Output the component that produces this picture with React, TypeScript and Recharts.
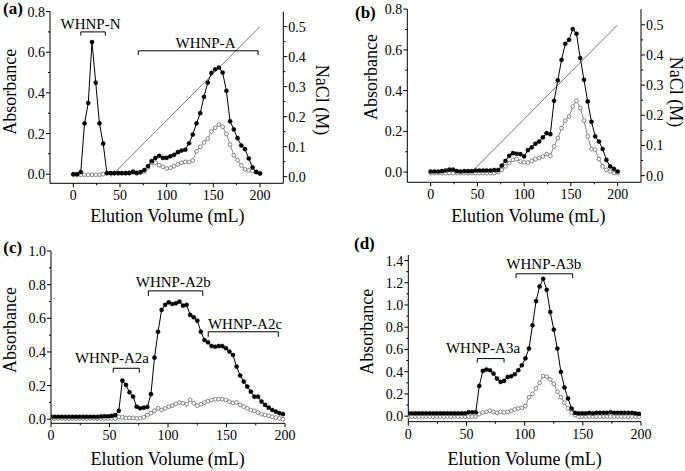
import React from 'react'
import { LineChart, Line, XAxis, YAxis, ReferenceLine, ReferenceDot } from 'recharts'

const SERIF = '"Liberation Serif", "Times New Roman", serif'
const W = 685
const H = 471

// elution volume of each collected fraction (mL)
const VOL_AB = [
  0, 4, 8, 12, 16, 20, 24, 28, 32, 36, 40, 44, 48, 52, 56, 60, 64, 68, 72, 76, 80, 84, 88, 92, 96, 100,
  104, 108, 112, 116, 120, 124, 128, 132, 136, 140, 144, 148, 152, 156, 160, 164, 168, 172, 176, 180,
  184, 188, 192, 196, 200,
]
const VOL_CD = [
  0, 3.05, 6.1, 9.15, 12.2, 15.25, 18.3, 21.35, 24.4, 27.45, 30.5, 33.55, 36.6, 39.65, 42.7, 45.75, 48.8,
  51.85, 54.9, 57.95, 61, 64.05, 67.1, 70.15, 73.2, 76.25, 79.3, 82.35, 85.4, 88.45, 91.5, 94.55, 97.6,
  100.65, 103.7, 106.75, 109.8, 112.85, 115.9, 118.95, 122, 125.05, 128.1, 131.15, 134.2, 137.25, 140.3,
  143.35, 146.4, 149.45, 152.5, 155.55, 158.6, 161.65, 164.7, 167.75, 170.8, 173.85, 176.9, 179.95, 183,
  186.05, 189.1, 192.15, 195.2, 198.25,
]

// absorbance, filled markers (●) and open markers (○)
const A_FILLED = [
  0, 0, 0.01, 0.25, 0.35, 0.65, 0.45, 0.25, 0.15, 0.005, 0.005, 0.005, 0.005, 0.005, 0.005, 0.005, 0.01,
  0.005, 0.01, 0.02, 0.04, 0.064, 0.08, 0.09, 0.08, 0.08, 0.088, 0.095, 0.108, 0.116, 0.12, 0.152, 0.195,
  0.25, 0.3, 0.38, 0.45, 0.498, 0.516, 0.525, 0.5, 0.41, 0.26, 0.22, 0.177, 0.141, 0.123, 0.077, 0.033,
  0.011, 0.003,
]
const A_OPEN = [
  -0.003, -0.003, -0.003, -0.003, -0.003, -0.003, -0.003, -0.003, 0, 0.005, 0.005, 0.005, 0.005, 0.005,
  0.005, 0.008, 0.015, 0.008, 0.008, 0.013, 0.033, 0.057, 0.057, 0.044, 0.036, 0.028, 0.031, 0.039, 0.048,
  0.056, 0.06, 0.06, 0.067, 0.113, 0.134, 0.156, 0.175, 0.21, 0.228, 0.244, 0.233, 0.198, 0.146, 0.093,
  0.069, 0.043, 0.023, 0.018, 0.015, 0.01, 0.005,
]
const B_FILLED = [
  0.003, 0.003, 0.003, 0.005, 0.008, 0.012, 0.012, 0.005, 0.003, 0.005, 0.005, 0.005, 0.008, 0.008, 0.008,
  0.008, 0.008, 0.01, 0.01, 0.032, 0.055, 0.08, 0.093, 0.09, 0.088, 0.077, 0.108, 0.121, 0.139, 0.15, 0.17,
  0.191, 0.186, 0.35, 0.45, 0.551, 0.63, 0.649, 0.702, 0.679, 0.56, 0.453, 0.347, 0.247, 0.175, 0.15, 0.113,
  0.06, 0.028, 0.016, 0.003,
]
const B_OPEN = [
  -0.005, -0.005, -0.005, -0.005, -0.005, -0.005, -0.005, -0.005, -0.005, -0.005, -0.005, -0.005, -0.005,
  -0.005, -0.005, -0.005, -0.005, -0.005, 0, 0.011, 0.028, 0.044, 0.06, 0.064, 0.052, 0.047, 0.047, 0.055,
  0.064, 0.069, 0.077, 0.088, 0.08, 0.126, 0.167, 0.216, 0.252, 0.273, 0.322, 0.35, 0.315, 0.253, 0.175,
  0.113, 0.11, 0.064, 0.028, 0.011, 0.003, -0.005, -0.005,
]
const C_FILLED = [
  0.015, 0.015, 0.015, 0.015, 0.015, 0.015, 0.015, 0.015, 0.015, 0.015, 0.015, 0.015, 0.015, 0.015, 0.017,
  0.018, 0.018, 0.02, 0.025, 0.05, 0.23, 0.204, 0.16, 0.134, 0.075, 0.065, 0.069, 0.073, 0.149, 0.366, 0.52,
  0.65, 0.68, 0.695, 0.685, 0.689, 0.699, 0.675, 0.68, 0.62, 0.606, 0.586, 0.52, 0.471, 0.457, 0.435, 0.431,
  0.435, 0.435, 0.422, 0.402, 0.382, 0.313, 0.26, 0.224, 0.194, 0.164, 0.134, 0.134, 0.105, 0.085, 0.069,
  0.055, 0.045, 0.036, 0.03,
]
const C_OPEN = [
  0.004, 0.004, 0.004, 0.004, 0.004, 0.004, 0.004, 0.004, 0.004, 0.004, 0.004, 0.004, 0.004, 0.004, 0.004,
  0.004, 0.004, 0.004, 0.004, 0.015, 0.012, 0.008, 0.008, 0.008, 0.005, 0.006, 0.012, 0.025, 0.036, 0.05,
  0.065, 0.055, 0.065, 0.075, 0.081, 0.091, 0.1, 0.095, 0.089, 0.115, 0.095, 0.081, 0.089, 0.1, 0.108, 0.115,
  0.119, 0.119, 0.119, 0.115, 0.105, 0.097, 0.1, 0.085, 0.075, 0.065, 0.055, 0.05, 0.04, 0.03, 0.025, 0.02,
  0.015, 0.01, 0.005, 0,
]
const D_FILLED = [
  0.025, 0.025, 0.025, 0.025, 0.025, 0.025, 0.025, 0.025, 0.025, 0.025, 0.025, 0.025, 0.025, 0.025, 0.025,
  0.025, 0.025, 0.035, 0.035, 0.035, 0.272, 0.407, 0.419, 0.413, 0.383, 0.338, 0.308, 0.317, 0.353, 0.359,
  0.377, 0.413, 0.458, 0.52, 0.608, 0.817, 1.035, 1.167, 1.236, 1.137, 0.936, 0.778, 0.608, 0.398, 0.258,
  0.159, 0.069, 0.03, 0.025, 0.025, 0.025, 0.03, 0.025, 0.03, 0.03, 0.03, 0.03, 0.035, 0.03, 0.03, 0.03,
  0.03, 0.03, 0.03, 0.025, 0.02,
]
const D_OPEN = [
  -0.004, -0.004, -0.004, -0.004, -0.004, -0.004, -0.004, -0.004, -0.004, -0.004, -0.004, -0.004, -0.004,
  -0.004, -0.004, -0.004, -0.004, -0.004, -0.004, -0.004, 0.018, 0.033, 0.039, 0.048, 0.039, 0.03, 0.039,
  0.033, 0.039, 0.048, 0.06, 0.069, 0.075, 0.09, 0.17, 0.2, 0.25, 0.3, 0.36, 0.355, 0.33, 0.29, 0.22, 0.17,
  0.12, 0.07, 0.03, 0.01, -0.004, -0.004, -0.004, -0.004, -0.004, -0.004, -0.004, -0.004, -0.004, -0.004,
  -0.004, -0.004, -0.004, -0.004, -0.004, -0.004, -0.004, -0.004,
]

// linear NaCl gradient (M)
const NACL_VOL = [40, 200]
const NACL_M = [0, 0.5]

// axis ticks (minor ones are drawn without a label)
const X_TICKS = [0, 25, 50, 75, 100, 125, 150, 175, 200]
const ABS_TICKS_08 = [0, 0.1, 0.2, 0.3, 0.4, 0.5, 0.6, 0.7, 0.8]
const ABS_TICKS_10 = [0, 0.1, 0.2, 0.3, 0.4, 0.5, 0.6, 0.7, 0.8, 0.9, 1.0]
const ABS_TICKS_14 = [0, 0.1, 0.2, 0.3, 0.4, 0.5, 0.6, 0.7, 0.8, 0.9, 1.0, 1.1, 1.2, 1.3, 1.4]
const NACL_TICKS = [0, 0.05, 0.1, 0.15, 0.2, 0.25, 0.3, 0.35, 0.4, 0.45, 0.5]

type Row = { v: number; f: number; o: number }
type Bracket = { name: string; from: number; to: number; level: number; drop: number; tx: number; ty: number }
type Pt = { x: number; y: number }
type PanelCfg = {
  id: string
  rows: Row[]
  nacl: { v: number; n: number }[] | null
  box: { left: number; right: number; top: number; bottom: number }
  xDomain: [number, number]
  yDomain: [number, number]
  yTicks: number[]
  rDomain?: [number, number]
  brackets: Bracket[]
  letter: Pt
  yTitle: Pt
  xTitle: Pt
  rTitle?: Pt
}

const zip = (vol: number[], f: number[], o: number[]): Row[] => vol.map((v, i) => ({ v, f: f[i], o: o[i] }))
const naclRows = NACL_VOL.map((v, i) => ({ v, n: NACL_M[i] }))

const onStep = (v: number, step: number) => Math.abs(v / step - Math.round(v / step)) < 1e-6

const txt = (size: number, bold = false): React.CSSProperties => ({
  fontFamily: SERIF,
  fontSize: size,
  fontWeight: bold ? 700 : 400,
  fill: '#000',
})

function tickRenderer(side: 'left' | 'right' | 'bottom', step: number, digits: number) {
  return function Tick(props: any) {
    const { x, y, payload } = props
    const major = onStep(payload.value, step)
    const len = major ? 4 : 2
    const label = major ? Number(payload.value).toFixed(digits) : null
    if (side === 'bottom') {
      return (
        <g>
          <line x1={x} y1={y} x2={x} y2={y + len} stroke="#000" />
          {label && (
            <text x={x} y={y + 17} textAnchor="middle" style={txt(14)}>
              {label}
            </text>
          )}
        </g>
      )
    }
    const dir = side === 'left' ? -1 : 1
    return (
      <g>
        <line x1={x} y1={y} x2={x + dir * len} y2={y} stroke="#000" />
        {label && (
          <text x={x + dir * 5} y={y + 5} textAnchor={side === 'left' ? 'end' : 'start'} style={txt(14)}>
            {label}
          </text>
        )}
      </g>
    )
  }
}

const PANELS: PanelCfg[] = [
  {
    id: '(a)',
    rows: zip(VOL_AB, A_FILLED, A_OPEN),
    nacl: naclRows,
    box: { left: 50, right: 283.3, top: 11.6, bottom: 183.3 },
    xDomain: [-25, 225],
    yDomain: [-0.045, 0.8],
    yTicks: ABS_TICKS_08,
    rDomain: [-0.022, 0.55],
    brackets: [
      { name: 'WHNP-N', from: 8, to: 34.3, level: 0.7, drop: 0.018, tx: 18.4, ty: 0.712 },
      { name: 'WHNP-A', from: 69.6, to: 198, level: 0.607, drop: 0.021, tx: 141.6, ty: 0.623 },
    ],
    letter: { x: 3, y: 14 },
    yTitle: { x: 10.5, y: 91.7 },
    xTitle: { x: 167.3, y: 221.5 },
    rTitle: { x: 321.7, y: 100 },
  },
  {
    id: '(b)',
    rows: zip(VOL_AB, B_FILLED, B_OPEN),
    nacl: naclRows,
    box: { left: 407.3, right: 641, top: 9.1, bottom: 182.3 },
    xDomain: [-25, 225],
    yDomain: [-0.05, 0.8],
    yTicks: ABS_TICKS_08,
    rDomain: [-0.022, 0.552],
    brackets: [],
    letter: { x: 355, y: 17.5 },
    yTitle: { x: 370.8, y: 77 },
    xTitle: { x: 528.3, y: 221.7 },
    rTitle: { x: 676, y: 92 },
  },
  {
    id: '(c)',
    rows: zip(VOL_CD, C_FILLED, C_OPEN),
    nacl: null,
    box: { left: 51, right: 285, top: 251, bottom: 423.3 },
    xDomain: [0, 200],
    yDomain: [-0.024, 1.0],
    yTicks: ABS_TICKS_10,
    brackets: [
      { name: 'WHNP-A2a', from: 53.2, to: 75.5, level: 0.303, drop: 0.026, tx: 52.1, ty: 0.335 },
      { name: 'WHNP-A2b', from: 83.2, to: 129.7, level: 0.763, drop: 0.03, tx: 104.5, ty: 0.786 },
      { name: 'WHNP-A2c', from: 134.4, to: 194.3, level: 0.52, drop: 0.03, tx: 165.8, ty: 0.537 },
    ],
    letter: { x: 3.3, y: 253 },
    yTitle: { x: 10.3, y: 330 },
    xTitle: { x: 167.7, y: 465 },
  },
  {
    id: '(d)',
    rows: zip(VOL_CD, D_FILLED, D_OPEN),
    nacl: null,
    box: { left: 408.3, right: 641, top: 255, bottom: 421.7 },
    xDomain: [0, 200],
    yDomain: [-0.05, 1.45],
    yTicks: ABS_TICKS_14,
    brackets: [
      { name: 'WHNP-A3a', from: 59.3, to: 82.3, level: 0.518, drop: 0.036, tx: 64.2, ty: 0.566 },
      { name: 'WHNP-A3b', from: 92.6, to: 141.3, level: 1.281, drop: 0.039, tx: 116.5, ty: 1.32 },
    ],
    letter: { x: 354, y: 248.5 },
    yTitle: { x: 367.3, y: 331.7 },
    xTitle: { x: 524.7, y: 465 },
  },
]

function Panel({ cfg }: { cfg: PanelCfg }) {
  const { box } = cfg
  const hasRight = !!cfg.rDomain
  const margin = {
    top: box.top,
    bottom: H - box.bottom - 30,
    left: box.left - 40,
    right: W - box.right - (hasRight ? 40 : 0),
  }

  return (
    <LineChart width={W} height={H} data={cfg.rows} margin={margin} style={{ fontFamily: SERIF }}>
      <XAxis
        type="number"
        dataKey="v"
        domain={cfg.xDomain}
        allowDataOverflow
        ticks={X_TICKS}
        interval={0}
        height={30}
        tickSize={0}
        tickMargin={0}
        tickLine={false}
        axisLine={{ stroke: '#000', strokeWidth: 1 }}
        tick={tickRenderer('bottom', 50, 0)}
        label={() => (
          <text x={cfg.xTitle.x} y={cfg.xTitle.y} textAnchor="middle" style={txt(18)}>
            Elution Volume (mL)
          </text>
        )}
      />
      <YAxis
        yAxisId="abs"
        type="number"
        domain={cfg.yDomain}
        allowDataOverflow
        ticks={cfg.yTicks}
        interval={0}
        width={40}
        tickSize={0}
        tickMargin={0}
        tickLine={false}
        axisLine={{ stroke: '#000', strokeWidth: 1 }}
        tick={tickRenderer('left', 0.2, 1)}
        label={() => (
          <g>
            <text x={cfg.letter.x} y={cfg.letter.y} style={txt(17, true)}>
              {cfg.id}
            </text>
            <text
              x={cfg.yTitle.x}
              y={cfg.yTitle.y}
              transform={`rotate(-90 ${cfg.yTitle.x} ${cfg.yTitle.y})`}
              textAnchor="middle"
              dominantBaseline="central"
              style={txt(18)}
            >
              Absorbance
            </text>
          </g>
        )}
      />
      {hasRight && (
        <YAxis
          yAxisId="nacl"
          orientation="right"
          type="number"
          domain={cfg.rDomain}
          allowDataOverflow
          ticks={NACL_TICKS}
          interval={0}
          width={40}
          tickSize={0}
          tickMargin={0}
          tickLine={false}
          axisLine={{ stroke: '#000', strokeWidth: 1 }}
          tick={tickRenderer('right', 0.1, 1)}
          label={() => (
            <text
              x={cfg.rTitle!.x}
              y={cfg.rTitle!.y}
              transform={`rotate(90 ${cfg.rTitle!.x} ${cfg.rTitle!.y})`}
              textAnchor="middle"
              dominantBaseline="central"
              style={txt(18)}
            >
              NaCl (M)
            </text>
          )}
        />
      )}
      {hasRight && cfg.nacl && (
        <Line
          yAxisId="nacl"
          data={cfg.nacl}
          dataKey="n"
          type="linear"
          stroke="#555"
          strokeWidth={0.8}
          dot={false}
          activeDot={false}
          isAnimationActive={false}
        />
      )}
      <Line
        yAxisId="abs"
        dataKey="o"
        type="linear"
        stroke="#7a7a7a"
        strokeWidth={0.9}
        dot={{ r: 1.9, fill: '#fff', stroke: '#6a6a6a', strokeWidth: 0.8 }}
        activeDot={false}
        isAnimationActive={false}
      />
      <Line
        yAxisId="abs"
        dataKey="f"
        type="linear"
        stroke="#000"
        strokeWidth={1}
        dot={{ r: 2.1, fill: '#000', stroke: '#000', strokeWidth: 0.4 }}
        activeDot={false}
        isAnimationActive={false}
      />
      {cfg.brackets.map((b) => (
        <ReferenceLine
          key={b.name + 'h'}
          yAxisId="abs"
          segment={[
            { x: b.from, y: b.level },
            { x: b.to, y: b.level },
          ]}
          stroke="#000"
          strokeWidth={1}
        />
      ))}
      {cfg.brackets.map((b) => (
        <ReferenceLine
          key={b.name + 'l'}
          yAxisId="abs"
          segment={[
            { x: b.from, y: b.level },
            { x: b.from, y: b.level - b.drop },
          ]}
          stroke="#000"
          strokeWidth={1}
        />
      ))}
      {cfg.brackets.map((b) => (
        <ReferenceLine
          key={b.name + 'r'}
          yAxisId="abs"
          segment={[
            { x: b.to, y: b.level },
            { x: b.to, y: b.level - b.drop },
          ]}
          stroke="#000"
          strokeWidth={1}
        />
      ))}
      {cfg.brackets.map((b) => (
        <ReferenceDot
          key={b.name + 't'}
          yAxisId="abs"
          x={b.tx}
          y={b.ty}
          r={0}
          shape={(p: any) => (
            <text x={p.cx} y={p.cy} textAnchor="middle" style={txt(15)}>
              {b.name}
            </text>
          )}
        />
      ))}
    </LineChart>
  )
}

export default function App() {
  return (
    <div
      style={{
        position: 'absolute',
        left: 0,
        top: 0,
        width: W,
        height: H,
        background: '#fff',
        overflow: 'hidden',
        fontFamily: SERIF,
      }}
    >
      {PANELS.map((p) => (
        <div key={p.id} style={{ position: 'absolute', left: 0, top: 0 }}>
          <Panel cfg={p} />
        </div>
      ))}
    </div>
  )
}
